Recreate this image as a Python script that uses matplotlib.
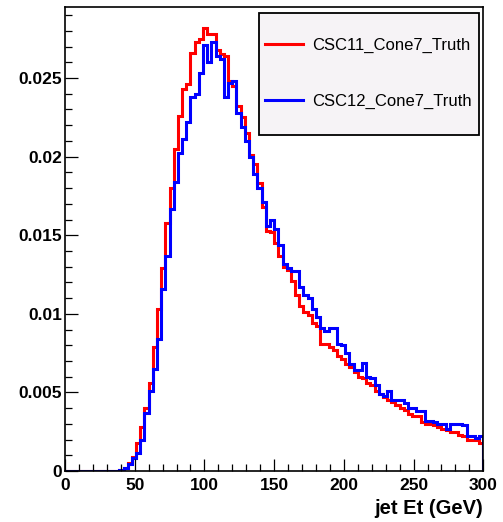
import numpy as np
import matplotlib
matplotlib.use("Agg")
import matplotlib.pyplot as plt
from matplotlib.patches import Rectangle
from matplotlib.lines import Line2D
from matplotlib.ticker import MultipleLocator, FormatStrFormatter

# 100 bins of 3 GeV, 0..300
bin_edges = np.linspace(0, 300, 101)

# normalised jet Et distributions
csc11 = [0, 0, 0, 0, 0, 0, 0, 0, 0, 0, 0, 0, 0,
         0.00005, 0.0002, 0.0005, 0.0009, 0.0018, 0.0028, 0.0040, 0.0056, 0.0079, 0.0103,
         0.0129, 0.0158, 0.0180, 0.0205, 0.0226, 0.0243, 0.0246, 0.0266, 0.0273, 0.0275,
         0.0282, 0.0278, 0.0278, 0.0268, 0.0265, 0.0264, 0.0248, 0.0245, 0.0232, 0.0225,
         0.0215, 0.0201, 0.0195, 0.0183, 0.0168, 0.0153, 0.0152, 0.0145, 0.0137, 0.0130,
         0.0128, 0.0121, 0.0112, 0.0105, 0.0101, 0.0099, 0.0094, 0.0092, 0.0081, 0.0081,
         0.0079, 0.0077, 0.0073, 0.0071, 0.0068, 0.0066, 0.0063, 0.0060, 0.0059, 0.0056,
         0.0055, 0.0051, 0.0049, 0.0047, 0.0045, 0.0044, 0.0042, 0.0040, 0.0039, 0.0036,
         0.0035, 0.0035, 0.0031, 0.0030, 0.0030, 0.0029, 0.0028, 0.0027, 0.0026, 0.0025,
         0.0025, 0.0023, 0.0022, 0.0020, 0.0020, 0.0020, 0.0018]

csc12 = [0, 0, 0, 0, 0, 0, 0, 0, 0, 0, 0, 0, 0,
         0.00005, 0.00017, 0.00047, 0.00085, 0.00117, 0.0020, 0.0037, 0.0051, 0.0065, 0.0084,
         0.0116, 0.0137, 0.0167, 0.0184, 0.0202, 0.0211, 0.0222, 0.0238, 0.0240, 0.0253,
         0.0271, 0.0260, 0.0273, 0.0264, 0.0262, 0.0238, 0.0247, 0.0248, 0.0228, 0.0219,
         0.0210, 0.0200, 0.0189, 0.0180, 0.0171, 0.0156, 0.0160, 0.0154, 0.0144, 0.0132,
         0.0129, 0.0127, 0.0127, 0.0117, 0.0112, 0.0110, 0.0103, 0.0098, 0.0091, 0.0089,
         0.0091, 0.0091, 0.0081, 0.0080, 0.0075, 0.0068, 0.0064, 0.0064, 0.0069, 0.0060,
         0.0059, 0.0055, 0.0049, 0.0048, 0.0051, 0.0045, 0.0045, 0.0045, 0.0043, 0.0040,
         0.0040, 0.0038, 0.0038, 0.0032, 0.0032, 0.0031, 0.0030, 0.0030, 0.0027, 0.0030,
         0.0030, 0.0030, 0.0029, 0.0022, 0.0022, 0.0021, 0.0022]

labels = ["CSC11_Cone7_Truth", "CSC12_Cone7_Truth"]
colors = ["#ff0000", "#0000ff"]

fig = plt.figure(figsize=(5.03, 5.22), dpi=100)
ax = fig.add_axes([0.1292, 0.0977, 0.8316, 0.8883])

for vals, c in zip([csc11, csc12], colors):
    ax.stairs(vals, bin_edges, color=c, linewidth=2.2, baseline=0)

ax.set_xlim(0, 300)
ax.set_ylim(0, 0.0295)

ax.xaxis.set_major_locator(MultipleLocator(50))
ax.xaxis.set_minor_locator(MultipleLocator(10))
ax.yaxis.set_major_locator(MultipleLocator(0.005))
ax.yaxis.set_minor_locator(MultipleLocator(0.001))
ax.xaxis.set_major_formatter(FormatStrFormatter('%d'))
ax.yaxis.set_major_formatter(FormatStrFormatter('%g'))

ax.tick_params(which='major', direction='in', length=9, width=0.9, top=False, right=False)
ax.tick_params(which='minor', direction='in', length=5, width=0.9, top=False, right=False)
ax.tick_params(axis='x', pad=5)
ax.tick_params(axis='y', pad=2)
for lab in ax.get_xticklabels() + ax.get_yticklabels():
    lab.set_fontfamily('Liberation Sans')
    lab.set_fontweight('bold')
    lab.set_fontsize(12.5)
for s in ax.spines.values():
    s.set_linewidth(1.2)

ax.set_xlabel('jet Et (GeV)', loc='right', fontfamily='Liberation Sans',
              fontweight='bold', fontsize=14.5, labelpad=4)

# legend box (ROOT TLegend look)
ax.add_patch(Rectangle((0.463, 0.725), 0.527, 0.263, transform=ax.transAxes,
                       facecolor='#f6f3f6', edgecolor='black', linewidth=1.3, zorder=5))
handles = [Line2D([], [], color=c, linewidth=2.2) for c in colors]
leg = ax.legend(handles, labels, loc='center left', bbox_to_anchor=(0.478, 0.857),
                frameon=False, borderpad=0, borderaxespad=0, handlelength=2.3,
                handletextpad=0.55, labelspacing=2.45,
                prop={'family': 'Liberation Sans', 'size': 12})
leg.set_zorder(6)

fig.savefig('out.png', dpi=100)
